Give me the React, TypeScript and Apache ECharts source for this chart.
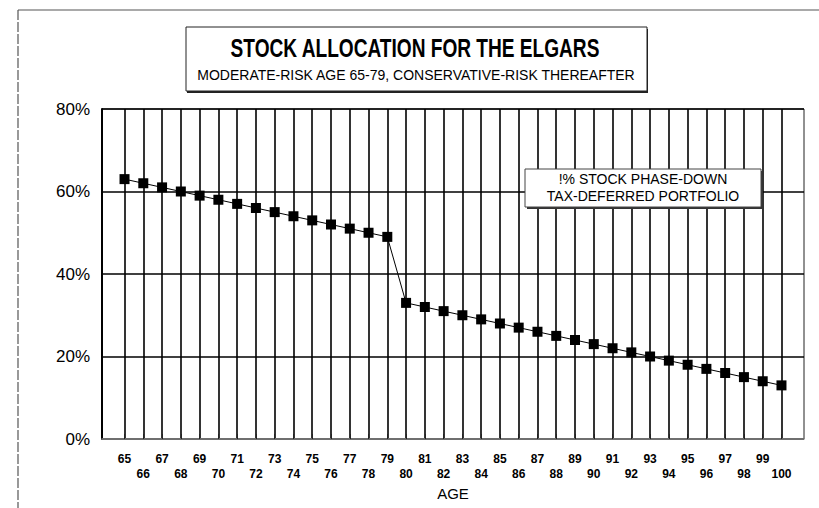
import React, { useEffect, useRef } from "react";
import * as echarts from "echarts";

const ages: number[] = [
  65, 66, 67, 68, 69, 70, 71, 72, 73, 74, 75, 76, 77, 78, 79, 80, 81, 82,
  83, 84, 85, 86, 87, 88, 89, 90, 91, 92, 93, 94, 95, 96, 97, 98, 99, 100,
];
const stockPct: number[] = [
  63, 62, 61, 60, 59, 58, 57, 56, 55, 54, 53, 52, 51, 50, 49, 33, 32, 31,
  30, 29, 28, 27, 26, 25, 24, 23, 22, 21, 20, 19, 18, 17, 16, 15, 14, 13,
];
const yTicks: number[] = [0, 20, 40, 60, 80];
const titleText = "STOCK ALLOCATION FOR THE ELGARS";
const subtitleText = "MODERATE-RISK AGE 65-79, CONSERVATIVE-RISK THEREAFTER";
const legendLines: string[] = ["!% STOCK PHASE-DOWN", "TAX-DEFERRED PORTFOLIO"];
const xName = "AGE";

const FONT = "Arial, 'Liberation Sans', Helvetica, sans-serif";

export default function App() {
  const ref = useRef<HTMLDivElement>(null);
  useEffect(() => {
    if (!ref.current) return;
    const chart = echarts.init(ref.current, null, { renderer: "svg" });
    const option: any = {
      animation: false,
      backgroundColor: "#ffffff",
      textStyle: { fontFamily: FONT },
      grid: {
        left: 102,
        right: 15,
        top: 109,
        bottom: 69,
        show: true,
        borderColor: "#222",
        borderWidth: 1,
        backgroundColor: "transparent",
      },
      xAxis: {
        type: "value",
        min: 63.8,
        max: 101.2,
        name: xName,
        nameLocation: "middle",
        nameGap: 46,
        nameTextStyle: { fontSize: 15, color: "#000", fontFamily: FONT },
        axisLine: { show: true, lineStyle: { color: "#888", width: 1.5 } },
        axisTick: {
          show: true,
          inside: true,
          length: 5,
          customValues: ages,
          lineStyle: { color: "#222", width: 1 },
        },
        axisLabel: {
          customValues: ages,
          margin: 12,
          fontSize: 12,
          fontWeight: "bold",
          color: "#000",
          lineHeight: 15,
          fontFamily: FONT,
          formatter: (v: number) => (v % 2 === 0 ? "\n" + v : "" + v),
        },
        splitLine: { show: true, lineStyle: { color: "#000", width: 1.6 } },
      },
      yAxis: {
        type: "value",
        min: 0,
        max: 80,
        interval: 20,
        axisLine: { show: true, lineStyle: { color: "#000", width: 2 } },
        axisTick: { show: false },
        axisLabel: {
          margin: 12,
          fontSize: 17,
          color: "#000",
          fontFamily: FONT,
          formatter: (v: number) => (yTicks.indexOf(v) >= 0 ? v + "%" : ""),
        },
        splitLine: { show: true, lineStyle: { color: "#000", width: 1.6 } },
      },
      series: [
        {
          type: "line",
          data: ages.map((a, i) => [a, stockPct[i]]),
          symbol: "rect",
          symbolSize: 10,
          lineStyle: { color: "#000", width: 1 },
          itemStyle: { color: "#000" },
          z: 5,
        },
      ],
      graphic: [
        // outer frame
        {
          type: "line",
          shape: { x1: 18, y1: 10, x2: 819, y2: 10 },
          style: { stroke: "#555", lineWidth: 1.2 },
          silent: true,
        },
        {
          type: "line",
          shape: { x1: 18, y1: 10, x2: 18, y2: 508 },
          style: { stroke: "#555", lineWidth: 1.2, lineDash: [10, 2] },
          silent: true,
        },
        // title box
        {
          type: "rect",
          shape: { x: 187, y: 29, width: 461, height: 64 },
          style: { fill: "#222" },
          z: 10,
        },
        {
          type: "rect",
          shape: { x: 186, y: 27, width: 461, height: 64 },
          style: { fill: "#fff", stroke: "#222", lineWidth: 1 },
          z: 11,
        },
        {
          type: "text",
          x: 415,
          y: 48,
          scaleX: 0.735,
          z: 12,
          style: {
            text: titleText,
            fontSize: 26,
            fontWeight: "bold",
            fontFamily: FONT,
            fill: "#000",
            align: "center",
            verticalAlign: "middle",
          },
        },
        {
          type: "text",
          x: 416,
          y: 75,
          z: 12,
          style: {
            text: subtitleText,
            fontSize: 14,
            fontFamily: FONT,
            fill: "#000",
            align: "center",
            verticalAlign: "middle",
          },
        },
        // legend box
        {
          type: "rect",
          shape: { x: 527, y: 171, width: 236, height: 38 },
          style: { fill: "#333" },
          z: 10,
        },
        {
          type: "rect",
          shape: { x: 525, y: 169, width: 236, height: 38 },
          style: { fill: "#fff", stroke: "#444", lineWidth: 1 },
          z: 11,
        },
        {
          type: "text",
          x: 643,
          y: 179,
          z: 12,
          style: {
            text: legendLines[0],
            fontSize: 14,
            fontFamily: FONT,
            fill: "#000",
            align: "center",
            verticalAlign: "middle",
          },
        },
        {
          type: "text",
          x: 643,
          y: 196,
          z: 12,
          style: {
            text: legendLines[1],
            fontSize: 14,
            fontFamily: FONT,
            fill: "#000",
            align: "center",
            verticalAlign: "middle",
          },
        },
      ],
    };
    chart.setOption(option);
    return () => chart.dispose();
  }, []);
  return (
    <div
      ref={ref}
      style={{ position: "fixed", left: 0, top: 0, width: 819, height: 508 }}
    />
  );
}
